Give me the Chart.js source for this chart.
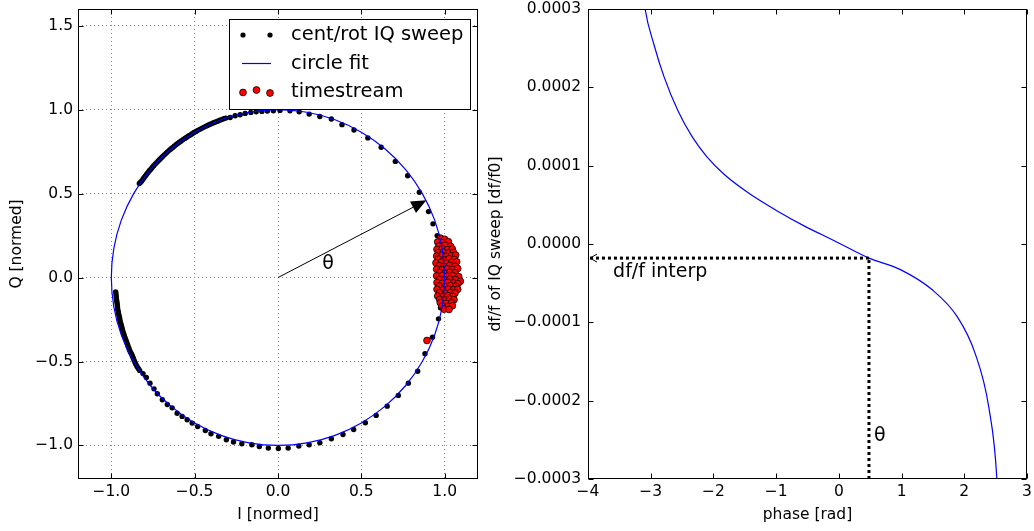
<!DOCTYPE html>
<html>
<head>
<meta charset="utf-8">
<title>IQ sweep and df/f interpolation</title>
<script src="https://cdn.jsdelivr.net/npm/chart.js@4.4.1/dist/chart.umd.min.js"></script>
<style>
  body { margin: 0; background: #fff; }
  #wrap { position: relative; width: 1034px; height: 531px; }
  canvas { position: absolute; top: 0; }
  #iq_chart { left: 0; }
  #phase_chart { left: 480px; }
</style>
</head>
<body>
<div id="wrap">
  <canvas id="iq_chart" width="480" height="531"></canvas>
  <canvas id="phase_chart" width="554" height="531"></canvas>
</div>
<script>
// ---- left panel: centred / rotated IQ sweep ----
const iTicks = [-1.0, -0.5, 0.0, 0.5, 1.0];
const qTicks = [-1.0, -0.5, 0.0, 0.5, 1.0, 1.5];
const iRange = [-1.2, 1.2];
const qRange = [-1.2, 1.6];

// sweep points [I, Q]
const sweepIQ = [
  [-0.974,-0.085],[-0.972,-0.098],[-0.971,-0.111],[-0.970,-0.124],[-0.968,-0.136],[-0.966,-0.149],
  [-0.964,-0.161],[-0.963,-0.174],[-0.962,-0.187],[-0.959,-0.200],[-0.957,-0.212],[-0.954,-0.225],
  [-0.951,-0.237],[-0.949,-0.250],[-0.947,-0.262],[-0.943,-0.275],[-0.939,-0.287],[-0.936,-0.300],
  [-0.933,-0.312],[-0.929,-0.325],[-0.925,-0.337],[-0.921,-0.349],[-0.917,-0.361],[-0.912,-0.373],
  [-0.908,-0.385],[-0.903,-0.398],[-0.899,-0.410],[-0.894,-0.422],[-0.890,-0.434],[-0.884,-0.446],
  [-0.878,-0.457],[-0.873,-0.469],[-0.868,-0.481],[-0.863,-0.493],[-0.858,-0.505],[-0.853,-0.517],
  [-0.846,-0.530],[-0.838,-0.542],[-0.830,-0.553],[-0.810,-0.572],[-0.790,-0.595],[-0.768,-0.629],
  [-0.744,-0.663],[-0.724,-0.692],[-0.694,-0.728],[-0.664,-0.756],[-0.635,-0.776],[-0.605,-0.808],
  [-0.575,-0.827],[-0.545,-0.847],[-0.515,-0.867],[-0.482,-0.887],[-0.436,-0.911],[-0.402,-0.930],
  [-0.356,-0.946],[-0.310,-0.966],[-0.267,-0.980],[-0.217,-0.990],[-0.157,-0.996],[-0.112,-1.006],
  [-0.058,-1.016],[0.002,-1.018],[0.061,-1.016],[0.125,-1.004],[0.187,-0.996],[0.251,-0.984],
  [0.320,-0.960],[0.390,-0.935],[0.454,-0.905],[0.524,-0.865],[0.589,-0.821],[0.655,-0.766],
  [0.722,-0.702],[0.782,-0.629],[0.838,-0.558],[0.882,-0.454],[0.927,-0.355],[0.963,-0.246],
  [0.975,-0.180],[0.985,-0.110],[0.990,-0.040],[0.990,0.030],[0.985,0.100],[0.975,0.170],
  [0.955,0.250],[0.930,0.320],[0.903,0.393],[0.848,0.508],[0.778,0.607],[0.704,0.692],
  [0.619,0.776],[0.539,0.832],[0.456,0.879],[0.384,0.911],[0.320,0.945],[0.251,0.960],
  [0.187,0.974],[0.127,0.988],[0.072,0.994],[0.012,0.996],[-0.028,0.994],[-0.064,0.992],
  [-0.097,0.990],[-0.131,0.988],[-0.163,0.984],[-0.197,0.978],[-0.227,0.970],[-0.257,0.964],
  [-0.287,0.954],[-0.313,0.950],[-0.326,0.946],[-0.338,0.941],[-0.350,0.937],[-0.362,0.932],
  [-0.375,0.927],[-0.387,0.922],[-0.399,0.917],[-0.411,0.912],[-0.423,0.906],[-0.434,0.901],
  [-0.446,0.895],[-0.458,0.889],[-0.469,0.883],[-0.481,0.877],[-0.492,0.870],[-0.504,0.864],
  [-0.515,0.857],[-0.526,0.850],[-0.537,0.843],[-0.548,0.836],[-0.559,0.829],[-0.570,0.822],
  [-0.581,0.814],[-0.592,0.806],[-0.602,0.799],[-0.612,0.791],[-0.623,0.783],[-0.633,0.774],
  [-0.643,0.766],[-0.653,0.758],[-0.663,0.749],[-0.672,0.740],[-0.682,0.731],[-0.692,0.722],
  [-0.701,0.713],[-0.710,0.704],[-0.719,0.695],[-0.728,0.685],[-0.737,0.676],[-0.746,0.666],
  [-0.755,0.656],[-0.763,0.646],[-0.772,0.636],[-0.780,0.626],[-0.788,0.616],[-0.796,0.605],
  [-0.804,0.595],[-0.811,0.584],[-0.819,0.574],[-0.826,0.566],[-0.832,0.560]
];

// fitted circle, every 10 degrees
const circleIQ = [
  [1.000,0.000],[0.985,0.174],[0.940,0.342],[0.866,0.500],[0.766,0.643],[0.643,0.766],
  [0.500,0.866],[0.342,0.940],[0.174,0.985],[0.000,1.000],[-0.174,0.985],[-0.342,0.940],
  [-0.500,0.866],[-0.643,0.766],[-0.766,0.643],[-0.866,0.500],[-0.940,0.342],[-0.985,0.174],
  [-1.000,0.000],[-0.985,-0.174],[-0.940,-0.342],[-0.866,-0.500],[-0.766,-0.643],[-0.643,-0.766],
  [-0.500,-0.866],[-0.342,-0.940],[-0.174,-0.985],[0.000,-1.000],[0.174,-0.985],[0.342,-0.940],
  [0.500,-0.866],[0.643,-0.766],[0.766,-0.643],[0.866,-0.500],[0.940,-0.342],[0.985,-0.174],
  [1.000,0.000]
];

// timestream samples [I, Q]
const streamIQ = [
  [0.975,0.235],[1.000,0.228],
  [0.958,0.212],[0.990,0.208],[1.022,0.214],
  [0.966,0.188],[1.002,0.192],[1.036,0.186],
  [0.954,0.168],[0.985,0.172],[1.016,0.166],[1.046,0.170],
  [0.962,0.148],[0.992,0.152],[1.022,0.146],[1.052,0.150],
  [0.952,0.128],[0.984,0.132],[1.012,0.126],[1.040,0.130],[1.066,0.134],
  [0.962,0.110],[0.996,0.106],[1.026,0.112],[1.058,0.108],
  [0.948,0.088],[0.980,0.092],[1.010,0.086],[1.042,0.090],[1.072,0.094],
  [0.966,0.070],[0.996,0.066],[1.030,0.072],[1.062,0.068],
  [0.952,0.050],[0.984,0.046],[1.016,0.052],[1.046,0.048],[1.078,0.054],
  [0.970,0.030],[1.002,0.026],[1.032,0.032],[1.062,0.028],
  [0.952,0.010],[0.986,0.012],[1.016,0.008],[1.048,0.012],[1.084,0.006],
  [0.970,-0.010],[1.000,-0.014],[1.032,-0.008],[1.066,-0.012],[1.094,-0.022],
  [0.954,-0.030],[0.986,-0.034],[1.020,-0.028],[1.052,-0.032],[1.080,-0.036],
  [0.966,-0.050],[1.002,-0.054],[1.036,-0.048],[1.068,-0.052],
  [0.954,-0.070],[0.990,-0.074],[1.022,-0.068],[1.052,-0.072],[1.078,-0.070],
  [0.968,-0.090],[1.004,-0.094],[1.036,-0.088],[1.062,-0.092],
  [0.958,-0.110],[0.990,-0.112],[1.020,-0.108],[1.050,-0.112],
  [0.970,-0.130],[1.000,-0.134],[1.030,-0.128],[1.056,-0.132],
  [0.974,-0.150],[1.010,-0.154],[1.042,-0.150],
  [0.984,-0.170],[1.020,-0.172],[1.046,-0.168],
  [0.996,-0.188],[1.026,-0.190],
  [0.894,-0.375]
];

// phase vector drawn as an arrow from the origin
const arrowTip = [0.89, 0.46];

// ---- right panel: df/f of the sweep vs phase ----
const phaseTicks = [-4, -3, -2, -1, 0, 1, 2, 3];
const dffTicks = [-0.0003, -0.0002, -0.0001, 0.0, 0.0001, 0.0002, 0.0003];
const phase = [-3.12, -3.09, -2.95, -2.79, -2.56, -2.34, -2.11, -1.83, -1.44, -0.99, -0.54,
  -0.08, 0.48, 0.99, 1.49, 1.89, 2.17, 2.39, 2.52, 2.53];
const dff = [0.000320, 0.000300, 0.000255, 0.000214, 0.000169, 0.000137, 0.000112, 0.000089,
  0.000065, 0.0000425, 0.0000225, 0.0000045, -0.000018, -0.000033, -0.0000585, -0.000093,
  -0.000139, -0.000208, -0.000300, -0.000320];
const interpPhase = 0.48;
const interpDff = -0.000018;

Chart.defaults.font.family = 'DejaVu Sans';
Chart.defaults.font.size = 15.5;
Chart.defaults.color = '#000';

const fmtTick = digits => v => v.toFixed(digits).replace('-', '\u2212');
const fixTicks = values => scale => { scale.ticks = values.map(v => ({value: v})); };
// fixed axis band sizes; edge labels may overhang into the page margin
const fixX = h => scale => { scale.height = h; scale.paddingLeft = 0; scale.paddingRight = 0; };
const fixY = w => scale => { scale.width = w; scale.paddingTop = 0; scale.paddingBottom = 0; };

// frame around the plot area with inward ticks on all four sides
const frameTicks = {
  id: 'frameTicks',
  afterDraw(chart) {
    const {ctx, chartArea: a, scales} = chart;
    const L = Math.round(a.left) + 0.5, R = Math.round(a.right) - 0.5;
    const T = Math.round(a.top) + 0.5, B = Math.round(a.bottom) - 0.5;
    ctx.save();
    ctx.strokeStyle = '#000';
    ctx.lineWidth = 1;
    ctx.beginPath();
    scales.x.ticks.forEach(t => {
      const px = Math.round(scales.x.getPixelForValue(t.value)) + 0.5;
      ctx.moveTo(px, T); ctx.lineTo(px, T + 5);
      ctx.moveTo(px, B); ctx.lineTo(px, B - 5);
    });
    scales.y.ticks.forEach(t => {
      const py = Math.round(scales.y.getPixelForValue(t.value)) + 0.5;
      ctx.moveTo(L, py); ctx.lineTo(L + 5, py);
      ctx.moveTo(R, py); ctx.lineTo(R - 5, py);
    });
    ctx.stroke();
    ctx.strokeRect(L, T, R - L, B - T);
    ctx.restore();
  }
};

// arrow, theta label and legend box for the IQ panel
const iqExtras = {
  id: 'iqExtras',
  afterDatasetsDraw(chart) {
    const {ctx, scales: {x, y}} = chart;
    const x0 = x.getPixelForValue(0), y0 = y.getPixelForValue(0);
    const x1 = x.getPixelForValue(arrowTip[0]), y1 = y.getPixelForValue(arrowTip[1]);
    const ang = Math.atan2(y1 - y0, x1 - x0);
    const hl = 15, hw = 6.5;
    const bx = x1 - hl * Math.cos(ang), by = y1 - hl * Math.sin(ang);
    ctx.save();
    ctx.strokeStyle = '#000';
    ctx.fillStyle = '#000';
    ctx.lineWidth = 1;
    ctx.beginPath();
    ctx.moveTo(x0, y0);
    ctx.lineTo(bx, by);
    ctx.stroke();
    ctx.beginPath();
    ctx.moveTo(x1, y1);
    ctx.lineTo(bx - hw * Math.sin(ang), by + hw * Math.cos(ang));
    ctx.lineTo(bx + hw * Math.sin(ang), by - hw * Math.cos(ang));
    ctx.closePath();
    ctx.fill();

    ctx.font = '19px "DejaVu Sans"';
    ctx.textAlign = 'center';
    ctx.textBaseline = 'middle';
    ctx.fillText('\u03B8', x.getPixelForValue(0.30), y.getPixelForValue(0.08));
    ctx.restore();
  },
  afterDraw(chart) {
    const {ctx, chartArea: a} = chart;
    const bx = a.left + 151, by = a.top + 10, bw = 241, bh = 90;
    ctx.save();
    ctx.fillStyle = '#fff';
    ctx.fillRect(bx, by, bw, bh);
    ctx.strokeStyle = '#000';
    ctx.lineWidth = 1;
    ctx.strokeRect(Math.round(bx) + 0.5, Math.round(by) + 0.5, bw, bh);

    const rows = [by + 16, by + 44.5, by + 72.5];
    const mx0 = bx + 14, mx1 = bx + 41;
    // sweep marker
    ctx.fillStyle = '#000';
    [mx0, mx1].forEach(mx => { ctx.beginPath(); ctx.arc(mx, rows[0], 2.6, 0, Math.PI * 2); ctx.fill(); });
    // circle fit line
    ctx.strokeStyle = '#0000ff';
    ctx.lineWidth = 1.2;
    ctx.beginPath(); ctx.moveTo(mx0 - 1, rows[1]); ctx.lineTo(mx1 + 1, rows[1]); ctx.stroke();
    // timestream markers
    ctx.fillStyle = '#ff0000';
    ctx.strokeStyle = '#000';
    ctx.lineWidth = 0.8;
    [[mx0, 1], [(mx0 + mx1) / 2, -1.5], [mx1, 1.5]].forEach(([mx, dy]) => {
      ctx.beginPath(); ctx.arc(mx, rows[2] + dy, 3.4, 0, Math.PI * 2); ctx.fill(); ctx.stroke();
    });

    ctx.fillStyle = '#000';
    ctx.font = '19.5px "DejaVu Sans"';
    ctx.textAlign = 'left';
    ctx.textBaseline = 'middle';
    const labels = ['cent/rot IQ sweep', 'circle fit', 'timestream'];
    labels.forEach((s, i) => ctx.fillText(s, bx + 62, rows[i]));
    ctx.restore();
  }
};

new Chart(document.getElementById('iq_chart'), {
  type: 'scatter',
  data: {
    datasets: [
      {
        label: 'circle fit',
        data: circleIQ.map(p => ({x: p[0], y: p[1]})),
        showLine: true,
        tension: 0.35,
        borderColor: '#0000ff',
        borderWidth: 1.2,
        pointRadius: 0,
        order: 0
      },
      {
        label: 'timestream',
        data: streamIQ.map(p => ({x: p[0], y: p[1]})),
        backgroundColor: '#ff0000',
        borderColor: '#000',
        borderWidth: 0.8,
        pointRadius: 3.4,
        order: 1
      },
      {
        label: 'cent/rot IQ sweep',
        data: sweepIQ.map(p => ({x: p[0], y: p[1]})),
        backgroundColor: '#000',
        borderWidth: 0,
        pointRadius: 2.7,
        order: 2
      }
    ]
  },
  options: {
    responsive: false,
    animation: false,
    events: [],
    layout: {autoPadding: false, padding: {top: 9, right: 2, left: 0, bottom: 0}},
    plugins: {legend: {display: false}, tooltip: {enabled: false}},
    scales: {
      x: {
        type: 'linear',
        min: iRange[0],
        max: iRange[1],
        afterBuildTicks: fixTicks(iTicks),
        afterFit: fixX(52),
        ticks: {callback: fmtTick(1), padding: 0, maxRotation: 0},
        grid: {color: '#888', lineWidth: 1, drawTicks: true, tickLength: 4, tickWidth: 0},
        border: {display: false, dash: [1, 3]},
        title: {display: true, text: 'I [normed]', padding: {top: 0, bottom: 7}}
      },
      y: {
        type: 'linear',
        min: qRange[0],
        max: qRange[1],
        afterBuildTicks: fixTicks(qTicks),
        afterFit: fixY(78),
        ticks: {callback: fmtTick(1), padding: 0},
        grid: {color: '#888', lineWidth: 1, drawTicks: true, tickLength: 5, tickWidth: 0},
        border: {display: false, dash: [1, 3]},
        title: {display: true, text: 'Q [normed]', padding: {top: 8, bottom: 0}}
      }
    }
  },
  plugins: [iqExtras, frameTicks]
});

// arrowhead and labels for the interpolation guide
const phaseExtras = {
  id: 'phaseExtras',
  afterDatasetsDraw(chart) {
    const {ctx, scales: {x, y}} = chart;
    const tx = x.getPixelForValue(phaseTicks[0]) + 2, ty = y.getPixelForValue(interpDff);
    ctx.save();
    ctx.strokeStyle = '#000';
    ctx.lineWidth = 1;
    ctx.beginPath();
    ctx.moveTo(tx + 7, ty - 4);
    ctx.lineTo(tx, ty);
    ctx.lineTo(tx + 7, ty + 4);
    ctx.stroke();

    ctx.fillStyle = '#000';
    ctx.font = '19px "DejaVu Sans"';
    ctx.textAlign = 'left';
    ctx.textBaseline = 'middle';
    ctx.fillText('df/f interp', x.getPixelForValue(-3.6), y.getPixelForValue(-0.000036));
    ctx.fillText('\u03B8', x.getPixelForValue(0.56), y.getPixelForValue(-0.000245));
    ctx.restore();
  }
};

new Chart(document.getElementById('phase_chart'), {
  type: 'scatter',
  data: {
    datasets: [
      {
        label: 'df/f',
        data: phase.map((p, i) => ({x: p, y: dff[i]})),
        showLine: true,
        cubicInterpolationMode: 'monotone',
        borderColor: '#0000ff',
        borderWidth: 1.2,
        pointRadius: 0,
        order: 2
      },
      {
        label: 'theta guide',
        data: [{x: interpPhase, y: dffTicks[0]}, {x: interpPhase, y: interpDff}],
        showLine: true,
        borderColor: '#000',
        borderWidth: 3,
        borderDash: [3, 3],
        pointRadius: 0,
        order: 1
      },
      {
        label: 'df/f guide',
        data: [{x: interpPhase, y: interpDff}, {x: phaseTicks[0], y: interpDff}],
        showLine: true,
        borderColor: '#000',
        borderWidth: 3,
        borderDash: [3, 3],
        pointRadius: 0,
        order: 1
      }
    ]
  },
  options: {
    responsive: false,
    animation: false,
    events: [],
    layout: {autoPadding: false, padding: {top: 9, right: 7, left: 0, bottom: 0}},
    plugins: {legend: {display: false}, tooltip: {enabled: false}},
    scales: {
      x: {
        type: 'linear',
        min: phaseTicks[0],
        max: phaseTicks[phaseTicks.length - 1],
        afterBuildTicks: fixTicks(phaseTicks),
        afterFit: fixX(52),
        ticks: {callback: fmtTick(0), padding: 0, maxRotation: 0},
        grid: {display: true, drawOnChartArea: false, drawTicks: true, tickLength: 4, tickWidth: 0},
        border: {display: false},
        title: {display: true, text: 'phase [rad]', padding: {top: 0, bottom: 7}}
      },
      y: {
        type: 'linear',
        min: dffTicks[0],
        max: dffTicks[dffTicks.length - 1],
        afterBuildTicks: fixTicks(dffTicks),
        afterFit: fixY(108),
        ticks: {callback: fmtTick(4), padding: 0},
        grid: {display: true, drawOnChartArea: false, drawTicks: true, tickLength: 7, tickWidth: 0},
        border: {display: false},
        title: {display: true, text: 'df/f of IQ sweep [df/f0]', padding: {top: 7, bottom: 0}}
      }
    }
  },
  plugins: [phaseExtras, frameTicks]
});
</script>
</body>
</html>
